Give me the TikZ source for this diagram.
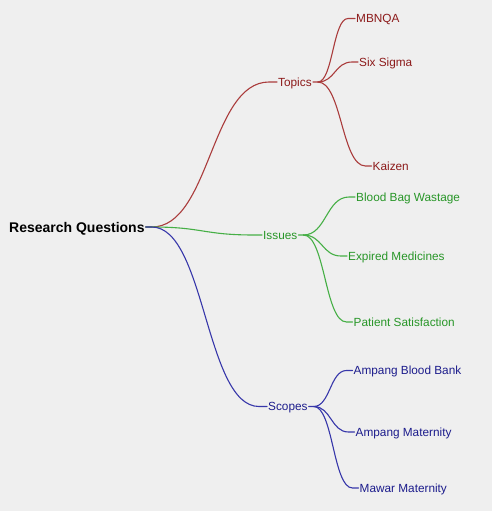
\documentclass[tikz,border=0pt]{standalone}
\usepackage{fontspec}
\setmainfont{Liberation Sans}
\usetikzlibrary{calc}
\definecolor{bgcol}{RGB}{239,239,239}
\definecolor{redtxt}{RGB}{140,26,26}
\definecolor{redln}{RGB}{170,60,60}
\definecolor{grntxt}{RGB}{40,150,40}
\definecolor{grnln}{RGB}{70,175,70}
\definecolor{blutxt}{RGB}{28,28,140}
\definecolor{bluln}{RGB}{55,55,170}
\tikzset{
  branch/.style={to path={let \p1=(\tikztostart), \p2=(\tikztotarget) in
      .. controls ({(\x1+\x2)/2},\y1) and ({(\x1+\x2)/2},\y2) .. (\tikztotarget)}},
  lbl/.style={anchor=west, inner xsep=1pt, inner ysep=0pt, font=\fontsize{11.8}{13}\selectfont,
      text height=8.4pt, text depth=0pt},
  rootlbl/.style={anchor=west, inner xsep=1pt, inner ysep=0pt, font=\fontsize{14}{16}\selectfont\bfseries,
      text height=10pt, text depth=0pt},
  conn/.style={line width=1.1pt, line cap=round},
}
\begin{document}
\begin{tikzpicture}[x=1pt,y=-1pt]
\fill[bgcol] (0,0) rectangle (492,511);
\useasboundingbox (0,0) rectangle (492,511);

% root
\node[rootlbl] (root) at (8,227) {Research Questions};
\coordinate (rj) at ($(root.east)+(6pt,0pt)$);

% level 1
\node[lbl, text=redtxt] (topics) at (277,82) {Topics};
\node[lbl, text=grntxt] (issues) at (262,235) {Issues};
\node[lbl, text=blutxt] (scopes) at (267,406.5) {Scopes};

\coordinate (tj) at ($(topics.east)+(5pt,0pt)$);
\coordinate (ij) at ($(issues.east)+(5pt,0pt)$);
\coordinate (sj) at ($(scopes.east)+(5pt,0pt)$);

% level 2
\node[lbl, text=redtxt] (mbnqa) at (355,18.5) {MBNQA};
\node[lbl, text=redtxt] (sixsigma) at (358,62) {Six Sigma};
\node[lbl, text=redtxt] (kaizen) at (371.5,166) {Kaizen};

\node[lbl, text=grntxt] (blood) at (355,197) {Blood Bag Wastage};
\node[lbl, text=grntxt] (expired) at (347,256) {Expired Medicines};
\node[lbl, text=grntxt] (patient) at (352.5,322) {Patient Satisfaction};

\node[lbl, text=blutxt] (abb) at (352.5,370.5) {Ampang Blood Bank};
\node[lbl, text=blutxt] (amat) at (354.5,432) {Ampang Maternity};
\node[lbl, text=blutxt] (mawar) at (358.5,488) {Mawar Maternity};

% connectors root -> level 1
\draw[conn, redln] (root.east) -- (rj) to[branch] ([xshift=-8pt]topics.west) -- (topics.west);
\draw[conn, grnln] (root.east) -- (rj) to[branch] ([xshift=-8pt]issues.west) -- (issues.west);
\draw[conn, bluln] (root.east) -- (rj) to[branch] ([xshift=-8pt]scopes.west) -- (scopes.west);

% topics children
\draw[conn, redln] (topics.east) -- (tj) to[branch] ([xshift=-7pt]mbnqa.west) -- (mbnqa.west);
\draw[conn, redln] (tj) to[branch] ([xshift=-6pt]sixsigma.west) -- (sixsigma.west);
\draw[conn, redln] (tj) to[branch] ([xshift=-6pt]kaizen.west) -- (kaizen.west);

% issues children
\draw[conn, grnln] (issues.east) -- (ij) to[branch] ([xshift=-6pt]blood.west) -- (blood.west);
\draw[conn, grnln] (ij) to[branch] ([xshift=-6pt]expired.west) -- (expired.west);
\draw[conn, grnln] (ij) to[branch] ([xshift=-6pt]patient.west) -- (patient.west);

% scopes children
\draw[conn, bluln] (scopes.east) -- (sj) to[branch] ([xshift=-6pt]abb.west) -- (abb.west);
\draw[conn, bluln] (sj) to[branch] ([xshift=-6pt]amat.west) -- (amat.west);
\draw[conn, bluln] (sj) to[branch] ([xshift=-6pt]mawar.west) -- (mawar.west);
\end{tikzpicture}
\end{document}
